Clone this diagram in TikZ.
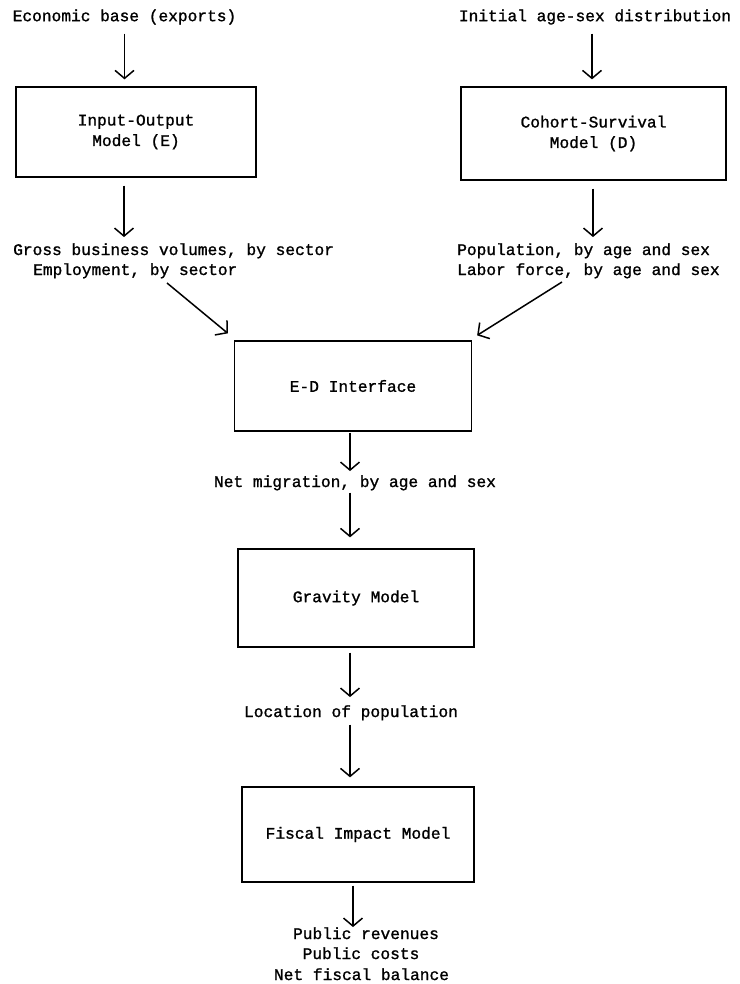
\documentclass[tikz,border=0pt]{standalone}
\usepackage{fontspec}
\setmonofont[FakeBold=1.2]{Liberation Mono}
\usetikzlibrary{arrows.meta,calc}
\begin{document}
\begin{tikzpicture}[x=1pt,y=-1pt,
  every node/.style={font=\ttfamily\fontsize{16.2}{20.5}\selectfont, inner sep=0pt},
  box/.style={draw, line width=1.3pt, align=center},
  arr/.style={line width=1.5pt, -{Straight Barb[length=8pt,width=19pt,line width=1.5pt]}}]
\useasboundingbox (0,0) rectangle (739,984);

% top inputs
\node (eb) at (124.5,17) {Economic base (exports)};
\node (ia) at (595,17) {Initial age-sex distribution};

% first models
\node[box, minimum width=240pt, minimum height=90pt] (io) at (136,132) {Input-Output\\Model (E)};
\node[box, minimum width=265pt, minimum height=93pt] (cs) at (593.5,133.5) {Cohort-Survival\\Model (D)};

% outputs of first models
\node[anchor=base west] (gb1) at (13,255) {Gross business volumes, by sector};
\node[anchor=base west] (gb2) at (33,275) {Employment, by sector};
\node[anchor=base west] (ps1) at (457,255) {Population, by age and sex};
\node[anchor=base west] (ps2) at (457,275) {Labor force, by age and sex};

% central chain
\node[box, minimum width=237pt, minimum height=90pt] (ed) at (353,386) {E-D Interface};
\node[anchor=base] (nm) at (355,487) {Net migration, by age and sex};
\node[box, minimum width=236pt, minimum height=98pt] (gm) at (356,598) {Gravity Model};
\node[anchor=base] (lp) at (351,717) {Location of population};
\node[box, minimum width=232pt, minimum height=95pt] (fm) at (358,834.5) {Fiscal Impact Model};
\node[anchor=base] (pr1) at (366,939) {Public revenues};
\node[anchor=base] (pr2) at (361,959) {Public costs};
\node[anchor=base] (pr3) at (361.5,980) {Net fiscal balance};

\coordinate (vx) at (350,0);
\coordinate (dl) at (167,283);
\coordinate (dr) at (562,282);

% arrows
\draw[arr] ($(eb.south)+(0,9)$) -- ($(eb.south |- io.north)+(0,-7)$);
\draw[arr] ($(ia.south)+(-3,9)$) -- ($(ia.south |- cs.north)+(-3,-7)$);
\draw[arr] ($(io.south)+(-12,8)$) -- ($(io.south |- gb1.north)+(-12,-6)$);
\draw[arr] ($(cs.south)+(-0.5,8)$) -- ($(cs.south |- ps1.north)+(-0.5,-6)$);
\draw[arr] (dl) -- ($(ed.north west)+(-6,-7)$);
\draw[arr] (dr) -- ($(ed.north east)+(5,-5)$);
\draw[arr] ($(ed.south -| vx)+(0,1)$) -- ($(nm.north -| vx)+(0,-4)$);
\draw[arr] ($(nm.south -| vx)+(0,2)$) -- ($(gm.north -| vx)+(0,-11)$);
\draw[arr] ($(gm.south -| vx)+(0,5)$) -- ($(lp.north -| vx)+(0,-8)$);
\draw[arr] ($(lp.south -| vx)+(0,4)$) -- ($(fm.north -| vx)+(0,-9)$);
\draw[arr] ($(fm.south -| vx)+(3,3)$) -- ($(pr1.north -| vx)+(3,0)$);
\end{tikzpicture}
\end{document}
